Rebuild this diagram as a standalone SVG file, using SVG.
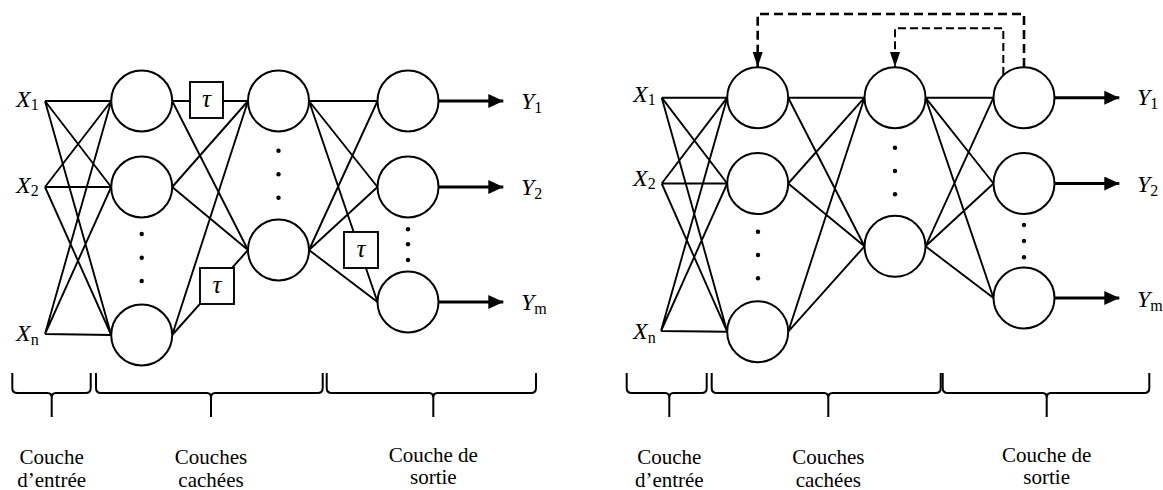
<svg xmlns="http://www.w3.org/2000/svg" width="1163" height="490" viewBox="0 0 1163 490">
<style>
.ln{stroke:#000;stroke-width:1.9;fill:none}
.nd{stroke:#000;stroke-width:2;fill:#fff}
.bx{stroke:#000;stroke-width:1.9;fill:#fff}
.ar{stroke:#000;stroke-width:3;fill:none}
.br{stroke:#000;stroke-width:2;fill:none}
.dot{fill:#000}
.d1{stroke:#000;stroke-width:2.6;fill:none;stroke-dasharray:9 5}
.d2{stroke:#000;stroke-width:2;fill:none;stroke-dasharray:8 4}
</style>
<defs>
<marker id="ah" markerUnits="userSpaceOnUse" markerWidth="16" markerHeight="16" refX="15" refY="7" orient="auto">
<path d="M0,0 L15,7 L0,14 Z" fill="#000"/>
</marker>
<marker id="dh" markerUnits="userSpaceOnUse" markerWidth="16" markerHeight="12" refX="15" refY="5" orient="auto">
<path d="M0,0 L15,5 L0,10 Z" fill="#000"/>
</marker>
</defs>

<!-- LEFT DIAGRAM -->
<g id="left-connectors">
<path class="ln" d="M45,101 L111.2,101 M45,101 L111.2,187 M45,101 L111.2,335
M45,187 L111.2,101 M45,187 L111.2,187 M45,187 L111.2,335
M45,334 L111.2,101 M45,334 L111.2,187 M45,334 L111.2,335"/>
<path class="ln" d="M172.2,101 L248,101 M172.2,101 L248,250
M172.2,187 L248,101 M172.2,187 L248,250
M172.2,335 L248,101 M172.2,335 L248,250"/>
<path class="ln" d="M309,101 L377.5,101 M309,101 L377.5,187 M309,101 L377.5,302
M309,250 L377.5,101 M309,250 L377.5,187 M309,250 L377.5,302"/>
<path class="ar" d="M438.5,101 L503.3,101" marker-end="url(#ah)"/>
<path class="ar" d="M438.5,187 L503.3,187" marker-end="url(#ah)"/>
<path class="ar" d="M438.5,302 L503.3,302" marker-end="url(#ah)"/>
</g>
<g id="left-inputs" font-family="Liberation Serif, DejaVu Serif, serif" font-style="italic" font-size="24" fill="#000">
<text x="16" y="107">X<tspan font-style="normal" font-size="16" dy="3">1</tspan></text>
<text x="16" y="193">X<tspan font-style="normal" font-size="16" dy="3">2</tspan></text>
<text x="16" y="341">X<tspan font-style="normal" font-size="16" dy="4">n</tspan></text>
</g>
<g id="left-h1">
<circle class="nd" cx="141.7" cy="101" r="30.5"/>
<circle class="nd" cx="141.7" cy="187" r="30.5"/>
<circle class="nd" cx="141.7" cy="335" r="30.5"/>
<circle class="dot" cx="141.7" cy="234" r="2.2"/>
<circle class="dot" cx="141.7" cy="257.7" r="2.2"/>
<circle class="dot" cx="141.7" cy="281" r="2.2"/>
</g>
<g id="left-h2">
<circle class="nd" cx="278.5" cy="101" r="30.5"/>
<circle class="nd" cx="278.5" cy="250" r="30.5"/>
<circle class="dot" cx="278.5" cy="150.7" r="2.2"/>
<circle class="dot" cx="278.5" cy="174.3" r="2.2"/>
<circle class="dot" cx="278.5" cy="197.7" r="2.2"/>
</g>
<g id="left-out">
<circle class="nd" cx="408" cy="101" r="30.5"/>
<circle class="nd" cx="408" cy="187" r="30.5"/>
<circle class="nd" cx="408" cy="302" r="30.5"/>
<circle class="dot" cx="408" cy="229.3" r="2.2"/>
<circle class="dot" cx="408" cy="244.3" r="2.2"/>
<circle class="dot" cx="408" cy="260" r="2.2"/>
</g>
<g font-family="Liberation Serif, DejaVu Serif, serif" font-style="italic" font-size="25" text-anchor="middle" fill="#000">
<g id="left-tau1"><rect class="bx" x="190" y="82" width="33" height="36"/><text x="206.5" y="107">τ</text></g>
<g id="left-tau2"><rect class="bx" x="200" y="268" width="34" height="36"/><text x="217" y="293">τ</text></g>
<g id="left-tau3"><rect class="bx" x="344" y="232" width="34" height="36"/><text x="361" y="257">τ</text></g>
</g>
<g id="left-outputs" font-family="Liberation Serif, DejaVu Serif, serif" font-style="italic" font-size="24" fill="#000">
<text x="521" y="109">Y<tspan font-style="normal" font-size="16" dy="4">1</tspan></text>
<text x="521" y="195">Y<tspan font-style="normal" font-size="16" dy="4">2</tspan></text>
<text x="521" y="310">Y<tspan font-style="normal" font-size="16" dy="4">m</tspan></text>
</g>
<g id="left-braces">
<path class="br" d="M12.3,373 L12.3,388 Q12.3,393 17.3,393 L47.7,393 Q51.7,393 51.7,398 L51.7,417 M51.7,398 Q51.7,393 55.7,393 L85.7,393 Q90.7,393 90.7,388 L90.7,373"/>
<path class="br" d="M96,373 L96,388 Q96,393 101,393 L207,393 Q211,393 211,398 L211,417 M211,398 Q211,393 215,393 L317.7,393 Q322.7,393 322.7,388 L322.7,373"/>
<path class="br" d="M326.7,373 L326.7,388 Q326.7,393 331.7,393 L429.3,393 Q433.3,393 433.3,398 L433.3,417 M433.3,398 Q433.3,393 437.3,393 L531,393 Q536,393 536,388 L536,373"/>
<g font-family="Liberation Serif, DejaVu Serif, serif" font-size="21" text-anchor="middle" fill="#000">
<text x="51.7" y="464">Couche</text>
<text x="51.7" y="487">d’entrée</text>
<text x="211" y="464">Couches</text>
<text x="211" y="487">cachées</text>
<text x="433.3" y="462">Couche de</text>
<text x="433.3" y="484">sortie</text>
</g>
</g>

<!-- RIGHT DIAGRAM -->
<g id="right-connectors">
<path class="ln" d="M661.7,97.7 L727.2,97.7 M661.7,97.7 L727.2,183.5 M661.7,97.7 L727.2,331.7
M661.7,183.5 L727.2,97.7 M661.7,183.5 L727.2,183.5 M661.7,183.5 L727.2,331.7
M661,331 L727.2,97.7 M661,331 L727.2,183.5 M661,331 L727.2,331.7"/>
<path class="ln" d="M788.2,97.7 L864.5,97.7 M788.2,97.7 L864.5,246.3
M788.2,183.5 L864.5,97.7 M788.2,183.5 L864.5,246.3
M788.2,331.7 L864.5,97.7 M788.2,331.7 L864.5,246.3"/>
<path class="ln" d="M925.5,97.7 L993.5,97.7 M925.5,97.7 L993.5,183.5 M925.5,97.7 L993.5,298
M925.5,246.3 L993.5,97.7 M925.5,246.3 L993.5,183.5 M925.5,246.3 L993.5,298"/>
<path class="ar" d="M1054.5,97.7 L1119.3,97.7" marker-end="url(#ah)"/>
<path class="ar" d="M1054.5,183.5 L1119.3,183.5" marker-end="url(#ah)"/>
<path class="ar" d="M1054.5,298 L1119.3,298" marker-end="url(#ah)"/>
<path class="d1" d="M1024,67 L1024,14 L757.7,14 L757.7,67" marker-end="url(#dh)"/>
<path class="d2" d="M1003.3,75 L1003.3,28.3 L895,28.3 L895,67" marker-end="url(#dh)"/>
</g>
<g id="right-inputs" font-family="Liberation Serif, DejaVu Serif, serif" font-style="italic" font-size="24" fill="#000">
<text x="633" y="102">X<tspan font-style="normal" font-size="16" dy="3">1</tspan></text>
<text x="633" y="186">X<tspan font-style="normal" font-size="16" dy="3">2</tspan></text>
<text x="633" y="339">X<tspan font-style="normal" font-size="16" dy="4">n</tspan></text>
</g>
<g id="right-h1">
<circle class="nd" cx="757.7" cy="97.7" r="30.5"/>
<circle class="nd" cx="757.7" cy="183.5" r="30.5"/>
<circle class="nd" cx="757.7" cy="331.7" r="30.5"/>
<circle class="dot" cx="758" cy="231.7" r="2.2"/>
<circle class="dot" cx="758" cy="255" r="2.2"/>
<circle class="dot" cx="758" cy="278.3" r="2.2"/>
</g>
<g id="right-h2">
<circle class="nd" cx="895" cy="97.7" r="30.5"/>
<circle class="nd" cx="895" cy="246.3" r="30.5"/>
<circle class="dot" cx="895" cy="147.7" r="2.2"/>
<circle class="dot" cx="895" cy="171" r="2.2"/>
<circle class="dot" cx="895" cy="194.3" r="2.2"/>
</g>
<g id="right-out">
<circle class="nd" cx="1024" cy="97.7" r="30.5"/>
<circle class="nd" cx="1024" cy="183.5" r="30.5"/>
<circle class="nd" cx="1024" cy="298" r="30.5"/>
<circle class="dot" cx="1024" cy="225" r="2.2"/>
<circle class="dot" cx="1024" cy="241" r="2.2"/>
<circle class="dot" cx="1024" cy="257.3" r="2.2"/>
</g>
<g id="right-outputs" font-family="Liberation Serif, DejaVu Serif, serif" font-style="italic" font-size="24" fill="#000">
<text x="1137" y="105">Y<tspan font-style="normal" font-size="16" dy="4">1</tspan></text>
<text x="1137" y="192">Y<tspan font-style="normal" font-size="16" dy="4">2</tspan></text>
<text x="1137" y="307">Y<tspan font-style="normal" font-size="16" dy="4">m</tspan></text>
</g>
<g id="right-braces">
<path class="br" d="M626.7,373 L626.7,388 Q626.7,393 631.7,393 L665.3,393 Q669.3,393 669.3,398 L669.3,417 M669.3,398 Q669.3,393 673.3,393 L701.7,393 Q706.7,393 706.7,388 L706.7,373"/>
<path class="br" d="M711.7,373 L711.7,388 Q711.7,393 716.7,393 L824.3,393 Q828.3,393 828.3,398 L828.3,417 M828.3,398 Q828.3,393 832.3,393 L935.7,393 Q940.7,393 940.7,388 L940.7,373"/>
<path class="br" d="M942.7,373 L942.7,388 Q942.7,393 947.7,393 L1042.7,393 Q1046.7,393 1046.7,398 L1046.7,417 M1046.7,398 Q1046.7,393 1050.7,393 L1144.3,393 Q1149.3,393 1149.3,388 L1149.3,373"/>
<g font-family="Liberation Serif, DejaVu Serif, serif" font-size="21" text-anchor="middle" fill="#000">
<text x="669.3" y="464">Couche</text>
<text x="669.3" y="487">d’entrée</text>
<text x="828.3" y="464">Couches</text>
<text x="828.3" y="487">cachées</text>
<text x="1046.7" y="462">Couche de</text>
<text x="1046.7" y="484">sortie</text>
</g>
</g>
</svg>
